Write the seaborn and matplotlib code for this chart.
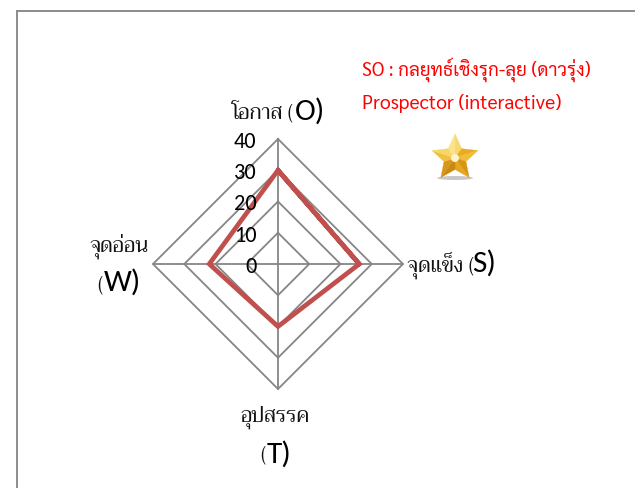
import numpy as np
import pandas as pd
import seaborn as sns
import matplotlib
matplotlib.use('Agg')
import matplotlib.pyplot as plt
from matplotlib.lines import Line2D
from matplotlib.patches import Ellipse, Polygon

W, H = 635, 488

# Data
axis_names = ['O', 'S', 'T', 'W']
values = [30, 26, 20, 22]
ring_ticks = [0, 10, 20, 30, 40]
tick_labels = ['0', '10', '20', '30', '40']

sns.set_theme(style='white')
THAI_SERIF = ['Trirong', 'DejaVu Serif']
THAI_SANS = ['Sarabun', 'Krub', 'DejaVu Sans']
LATIN = ['Carlito', 'Open Sans', 'DejaVu Sans']
GRID = '#868686'


def fx(x):
    return x / W


def fy(y):
    return 1 - y / H


fig = plt.figure(figsize=(W / 100, H / 100), dpi=100, facecolor='white')
ax = fig.add_axes([fx(153), fy(389), 250 / W, 250 / H], projection='polar')
ax.set_theta_zero_location('N')
ax.set_theta_direction(-1)
ax.set_facecolor('none')

angles = [2 * np.pi * i / len(axis_names) for i in range(len(axis_names))]

# Rings
for t in ring_ticks[1:]:
    ring = pd.DataFrame({'theta': angles + angles[:1], 'r': [t] * (len(angles) + 1)})
    sns.lineplot(data=ring, x='theta', y='r', sort=False, estimator=None, ax=ax,
                 color=GRID, linewidth=1.3, clip_on=False, solid_capstyle='projecting')

# Spokes
for a in angles:
    spoke = pd.DataFrame({'theta': [a, a], 'r': [ring_ticks[0], ring_ticks[-1]]})
    sns.lineplot(data=spoke, x='theta', y='r', sort=False, estimator=None, ax=ax,
                 color=GRID, linewidth=1.3, clip_on=False)

# Series
series = pd.DataFrame({'theta': angles + angles[:2], 'r': values + values[:2]})
sns.lineplot(data=series, x='theta', y='r', sort=False, estimator=None, ax=ax,
             color='#c0504d', linewidth=3.4, clip_on=False,
             solid_joinstyle='miter')

ax.set_ylim(ring_ticks[0], ring_ticks[-1])
ax.grid(False)
ax.spines['polar'].set_visible(False)
ax.set_xticks([])
ax.set_yticks([])
ax.set_xlabel('')
ax.set_ylabel('')

# Radial tick labels, right aligned left of the top spoke
for t, lab in zip(ring_ticks, tick_labels):
    ax.annotate(lab, (0, t), xytext=(-15.5, -2), textcoords='offset points', ha='right',
                va='center', fontsize=16, family=LATIN, color='black',
                annotation_clip=False)


def label(x, y, thai):
    # thai part and bracket in a serif face
    fig.text(fx(x), fy(y), thai, family=THAI_SERIF, fontsize=15, ha='left',
             va='baseline', color='#111111')


def letter(x, y, text, size=22.5):
    # the letter is larger, in a sans face
    fig.text(fx(x), fy(y), text, family=LATIN, fontsize=size, ha='left', va='baseline',
             color='black')


label(232, 119, 'โอกาส (')
letter(295, 120, 'O)')
label(407, 272, 'จุดแข็ง (')
letter(472, 272, 'S)')
label(89, 252, 'จุดอ่อน')
label(97, 291, '(')
letter(104, 291, 'W)')
label(241, 422, 'อุปสรรค')
label(260, 461, '(')
letter(267, 463, 'T)')

# Strategy note
fig.text(fx(362), fy(76), 'SO : กลยุทธ์เชิงรุก-ลุย (ดาวรุ่ง)', family=THAI_SANS, fontsize=13.5,
         color='#ff0000', ha='left', va='baseline')
fig.text(fx(362), fy(109), 'Prospector (interactive)', family=THAI_SANS, fontsize=14,
         color='#ff0000', ha='left', va='baseline')

# Star icon, facets shaded light to dark
cx, cy = 455, 158
n = 10
pts = []
for i in range(n):
    rad = 24 if i % 2 == 0 else 11.5
    ang = np.pi * i / 5
    pts.append((cx + rad * np.sin(ang), cy - rad * np.cos(ang)))
shades = ['#f6d873', '#e9ac20', '#f0bd3a', '#d9950f', '#e3a81f',
          '#c98a10', '#d8961a', '#f0c040', '#f7d566', '#fbe38a']
fig.patches.append(Ellipse((fx(455), fy(178)), 36 / W, 4 / H, transform=fig.transFigure,
                           facecolor='#c8c8c8', edgecolor='none'))
for i in range(n):
    a, b = pts[i], pts[(i + 1) % n]
    fig.patches.append(Polygon([(fx(cx), fy(cy)), (fx(a[0]), fy(a[1])), (fx(b[0]), fy(b[1]))],
                               closed=True, transform=fig.transFigure,
                               facecolor=shades[i], edgecolor=shades[i], linewidth=0.3))
fig.patches.append(Ellipse((fx(cx), fy(cy)), 8 / W, 8 / H, transform=fig.transFigure,
                           facecolor='#fff2cf', edgecolor='none'))

# Frame of the slide
fig.add_artist(Line2D([fx(17), fx(17)], [fy(488), fy(11)], color='#8c8c8c', linewidth=1.4,
                      solid_capstyle='projecting'))
fig.add_artist(Line2D([fx(17), fx(635)], [fy(11), fy(11)], color='#8c8c8c', linewidth=1.4,
                      solid_capstyle='projecting'))

fig.savefig('out.png', dpi=100)
